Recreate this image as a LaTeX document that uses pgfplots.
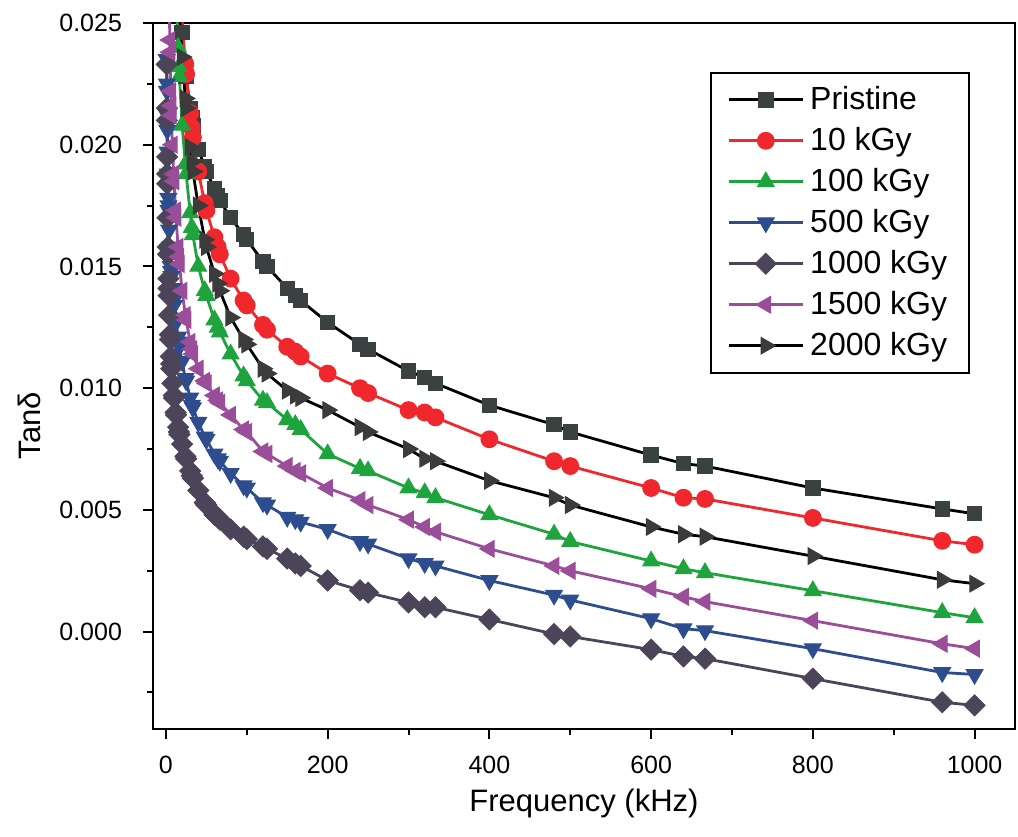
\documentclass[border=0pt]{standalone}
\usepackage{fontspec}
\setmainfont{Liberation Sans}
\usepackage{pgfplots}
\pgfplotsset{compat=1.18}
\definecolor{cPri}{HTML}{3A4241}
\definecolor{cRed}{HTML}{F0282D}
\definecolor{cGreen}{HTML}{1FA33D}
\definecolor{cBlue}{HTML}{2E4D8F}
\definecolor{cDia}{HTML}{4C4458}
\definecolor{cPur}{HTML}{9A4D98}
\definecolor{cDark}{HTML}{3B3B3B}
\begin{document}
\begin{tikzpicture}
\begin{axis}[
  scale only axis,
  width=431pt, height=353pt,
  xmin=-16, xmax=1050, ymin=-0.004, ymax=0.025,
  axis line style={line width=1.2pt},
  tick pos=left, tick align=outside,
  major tick length=5pt, minor tick length=3pt,
  every tick/.style={black, line width=1pt},
  xtick={0,200,400,600,800,1000},
  xticklabels={0,200,400,600,800,1000},
  minor xtick={100,300,500,700,900},
  ytick={0,0.005,0.01,0.015,0.02,0.025},
  yticklabels={0.000,0.005,0.010,0.015,0.020,0.025},
  minor ytick={-0.0025,0.0025,0.0075,0.0125,0.0175,0.0225},
  scaled y ticks=false, scaled x ticks=false,
  tick label style={font=\fontsize{12.5}{15}\selectfont},
  xticklabel style={yshift=-5pt},
  yticklabel style={xshift=-7pt},
  xlabel={Frequency (kHz)}, ylabel={Tan\char"03B4},
  every axis x label/.style={at={(axis description cs:0.5,-0.105)}, anchor=center, font=\fontsize{15.5}{18}\selectfont},
  every axis y label/.style={at={(axis description cs:-0.143,0.43)}, rotate=90, anchor=center, font=\fontsize{15.5}{18}\selectfont},
  legend style={at={(0.948,0.931)}, anchor=north east, draw=black, line width=1pt,
    font=\fontsize{16}{19}\selectfont, row sep=3.4pt, inner xsep=8pt, inner ysep=5pt,
    nodes={inner xsep=3pt}},
  legend cell align=left,
  legend image code/.code={\draw[mark repeat=2,mark phase=2] plot coordinates {(0cm,0cm) (0.65cm,0cm) (1.3cm,0cm)};},
  every axis plot/.append style={line width=1.4pt},
]
\addplot[black, mark=square*, mark size=3.6pt, mark options={solid, fill=cPri, draw=cPri, line width=0.5pt}] coordinates {
(10,0.0330)(12,0.0305)(12.5,0.0298)(15,0.0276)(16,0.0268)(16.67,0.0263)(20,0.0246)(24,0.0232)(25,0.0228)(30,0.0215)(32,0.0211)(33.33,0.0208)(40,0.0198)(48,0.0191)(50,0.0189)(60,0.0182)(64,0.0179)(66.67,0.0177)(80,0.0170)(96,0.0163)(100,0.0161)(120,0.0152)(125,0.0150)(150,0.0141)(160,0.0138)(166.67,0.0136)(200,0.0127)(240,0.0118)(250,0.0116)(300,0.0107)(320,0.01045)(333.33,0.0102)(400,0.0093)(480,0.0085)(500,0.0082)(600,0.00725)(640,0.0069)(666.67,0.0068)(800,0.0059)(960,0.00504)(1000,0.00484)};
\addlegendentry{Pristine}
\addplot[cRed, mark=*, mark size=4.2pt, mark options={solid, fill=cRed, draw=cRed, line width=0.5pt}] coordinates {
(10,0.0340)(12,0.0312)(12.5,0.0306)(15,0.0284)(16,0.0276)(16.67,0.0271)(20,0.0251)(24,0.0233)(25,0.0229)(30,0.0213)(32,0.0207)(33.33,0.0203)(40,0.0189)(48,0.0176)(50,0.0173)(60,0.0162)(64,0.0158)(66.67,0.0155)(80,0.0145)(96,0.0136)(100,0.0134)(120,0.0126)(125,0.0124)(150,0.0117)(160,0.0115)(166.67,0.0113)(200,0.0106)(240,0.0100)(250,0.0098)(300,0.0091)(320,0.0090)(333.33,0.0088)(400,0.0079)(480,0.0070)(500,0.0068)(600,0.0059)(640,0.0055)(666.67,0.00545)(800,0.00467)(960,0.00373)(1000,0.00357)};
\addlegendentry{10 kGy}
\addplot[cGreen, mark=triangle*, mark size=4.8pt, mark options={solid, fill=cGreen, draw=cGreen, line width=0.5pt}] coordinates {
(10,0.0290)(12,0.0267)(12.5,0.0262)(15,0.0240)(16,0.0232)(16.67,0.0228)(20,0.0208)(24,0.0192)(25,0.0188)(30,0.0172)(32,0.0166)(33.33,0.0163)(40,0.0150)(48,0.0140)(50,0.0138)(60,0.0128)(64,0.0125)(66.67,0.0123)(80,0.0114)(96,0.0105)(100,0.0103)(120,0.0095)(125,0.0094)(150,0.0087)(160,0.0085)(166.67,0.0083)(200,0.0073)(240,0.0067)(250,0.0066)(300,0.0059)(320,0.0057)(333.33,0.0055)(400,0.0048)(480,0.0040)(500,0.0037)(600,0.0029)(640,0.00258)(666.67,0.00242)(800,0.00168)(960,0.00078)(1000,0.00057)};
\addlegendentry{100 kGy}
\addplot[cBlue, mark=triangle*, mark size=4.8pt, mark options={solid, rotate=180, fill=cBlue, draw=cBlue, line width=0.5pt}] coordinates {
(1,0.0235)(1.2,0.0225)(1.25,0.0222)(1.5,0.0212)(1.6,0.0208)(1.67,0.0206)(2,0.0197)(2.4,0.0188)(2.5,0.0186)(3,0.0178)(3.2,0.0175)(3.33,0.0173)(4,0.0165)(4.8,0.0158)(5,0.0156)(6,0.0150)(6.4,0.0148)(6.67,0.0146)(8,0.0141)(9.6,0.0136)(10,0.0134)(12,0.0128)(12.5,0.0127)(15,0.0121)(16,0.0119)(16.67,0.0117)(20,0.0111)(24,0.0104)(25,0.0103)(30,0.0096)(32,0.0093)(33.33,0.0092)(40,0.0086)(48,0.0080)(50,0.0079)(60,0.0073)(64,0.0071)(66.67,0.0070)(80,0.0065)(96,0.0060)(100,0.0059)(120,0.0053)(125,0.0052)(150,0.0047)(160,0.0046)(166.67,0.0045)(200,0.0042)(240,0.0037)(250,0.0036)(300,0.0030)(320,0.0028)(333.33,0.0027)(400,0.0021)(480,0.0015)(500,0.0013)(600,0.00053)(640,0.00012)(666.67,0.00004)(800,-0.0007)(960,-0.00168)(1000,-0.00176)};
\addlegendentry{500 kGy}
\addplot[cDia, mark=square*, mark size=3.7pt, mark options={solid, rotate=45, fill=cDia, draw=cDia, line width=0.5pt}] coordinates {
(1,0.0233)(1.2,0.0215)(1.25,0.0210)(1.5,0.0195)(1.6,0.0188)(1.67,0.0184)(2,0.0170)(2.4,0.0158)(2.5,0.0155)(3,0.0145)(3.2,0.0141)(3.33,0.0138)(4,0.0130)(4.8,0.0122)(5,0.0120)(6,0.0113)(6.4,0.0110)(6.67,0.0108)(8,0.0102)(9.6,0.0097)(10,0.0096)(12,0.0090)(12.5,0.0089)(15,0.0084)(16,0.0082)(16.67,0.0081)(20,0.0077)(24,0.0072)(25,0.0071)(30,0.0066)(32,0.0064)(33.33,0.0063)(40,0.0058)(48,0.0053)(50,0.0052)(60,0.0048)(64,0.0047)(66.67,0.0046)(80,0.0042)(96,0.0039)(100,0.0038)(120,0.0035)(125,0.0034)(150,0.0030)(160,0.0028)(166.67,0.0027)(200,0.0021)(240,0.0017)(250,0.0016)(300,0.0012)(320,0.0010)(333.33,0.0010)(400,0.0005)(480,-0.0001)(500,-0.0002)(600,-0.00074)(640,-0.00102)(666.67,-0.00111)(800,-0.00193)(960,-0.0029)(1000,-0.00303)};
\addlegendentry{1000 kGy}
\addplot[cPur, mark=triangle*, mark size=4.8pt, mark options={solid, rotate=90, fill=cPur, draw=cPur, line width=0.5pt}] coordinates {
(3,0.0290)(3.2,0.0283)(3.33,0.0280)(4,0.0262)(4.8,0.0243)(5,0.0238)(6,0.0222)(6.4,0.0216)(6.67,0.0212)(8,0.0200)(9.6,0.0188)(10,0.0185)(12,0.0173)(12.5,0.0170)(15,0.0158)(16,0.0154)(16.67,0.0151)(20,0.0140)(24,0.0130)(25,0.0128)(30,0.0119)(32,0.0116)(33.33,0.0114)(40,0.0108)(48,0.0103)(50,0.0102)(60,0.0097)(64,0.0095)(66.67,0.0094)(80,0.0089)(96,0.0083)(100,0.0082)(120,0.0074)(125,0.0073)(150,0.0068)(160,0.0066)(166.67,0.0065)(200,0.0059)(240,0.0054)(250,0.0052)(300,0.0046)(320,0.0043)(333.33,0.0041)(400,0.0034)(480,0.0027)(500,0.0025)(600,0.00176)(640,0.00143)(666.67,0.00123)(800,0.00045)(960,-0.0005)(1000,-0.0007)};
\addlegendentry{1500 kGy}
\addplot[black, mark=triangle*, mark size=4.8pt, mark options={solid, rotate=-90, fill=cDark, draw=cDark, line width=0.5pt}] coordinates {
(10,0.0320)(12,0.0295)(12.5,0.0290)(15,0.0268)(16,0.0261)(16.67,0.0256)(20,0.0236)(24,0.0219)(25,0.0215)(30,0.0199)(32,0.0193)(33.33,0.0189)(40,0.0175)(48,0.0161)(50,0.0158)(60,0.0147)(64,0.0143)(66.67,0.0140)(80,0.0129)(96,0.0120)(100,0.0118)(120,0.0108)(125,0.0106)(150,0.0099)(160,0.0097)(166.67,0.0096)(200,0.0091)(240,0.0084)(250,0.0082)(300,0.0075)(320,0.0071)(333.33,0.0070)(400,0.0062)(480,0.0055)(500,0.0052)(600,0.0043)(640,0.0040)(666.67,0.0039)(800,0.0031)(960,0.00213)(1000,0.00197)};
\addlegendentry{2000 kGy}
\end{axis}
\pgfresetboundingbox
\path ([shift={(-76.5pt,-53.5pt)}]current axis.south west) rectangle ([shift={(1.5pt,11.5pt)}]current axis.north east);
\end{tikzpicture}
\end{document}
